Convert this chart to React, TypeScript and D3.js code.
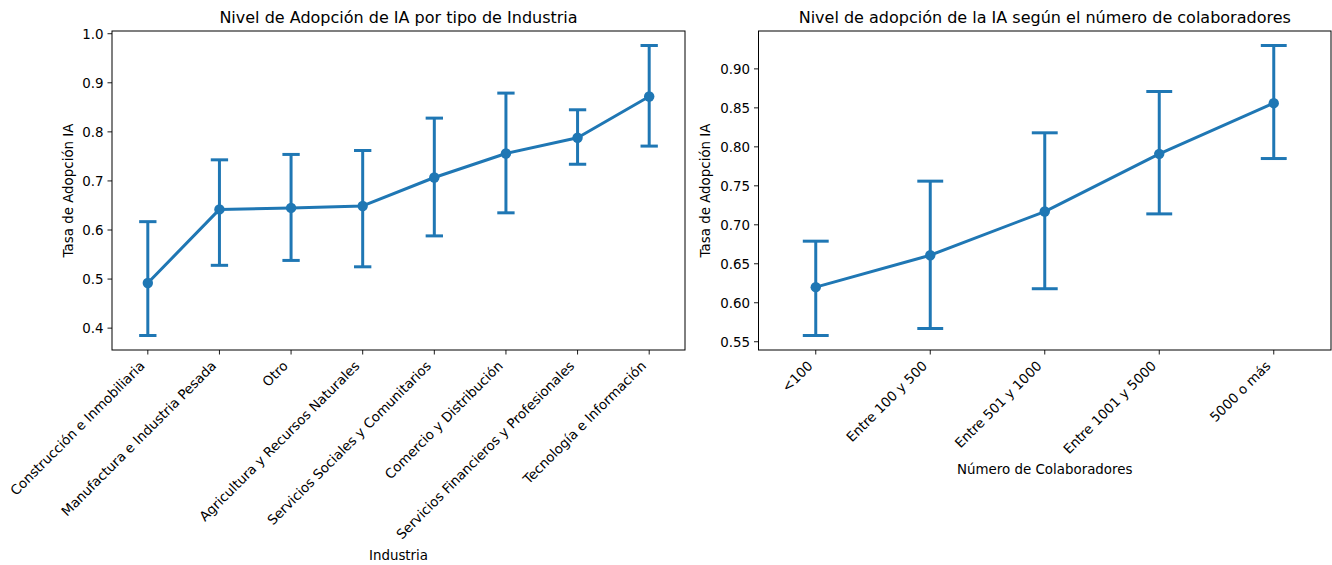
import React from "react";
import * as d3 from "d3";

const industrias = [
  "Construcción e Inmobiliaria",
  "Manufactura e Industria Pesada",
  "Otro",
  "Agricultura y Recursos Naturales",
  "Servicios Sociales y Comunitarios",
  "Comercio y Distribución",
  "Servicios Financieros y Profesionales",
  "Tecnología e Información",
];
const industriaMedia = [0.492, 0.642, 0.645, 0.649, 0.707, 0.756, 0.788, 0.872];
const industriaBajo = [0.385, 0.528, 0.538, 0.525, 0.588, 0.635, 0.734, 0.771];
const industriaAlto = [0.617, 0.743, 0.754, 0.762, 0.828, 0.879, 0.845, 0.976];
const industriaTicks = [0.4, 0.5, 0.6, 0.7, 0.8, 0.9, 1.0];

const colaboradores = ["<100", "Entre 100 y 500", "Entre 501 y 1000", "Entre 1001 y 5000", "5000 o más"];
const colabMedia = [0.62, 0.661, 0.717, 0.791, 0.856];
const colabBajo = [0.558, 0.567, 0.618, 0.714, 0.785];
const colabAlto = [0.679, 0.756, 0.818, 0.871, 0.93];
const colabTicks = [0.55, 0.6, 0.65, 0.7, 0.75, 0.8, 0.85, 0.9];

const FONT = "DejaVu Sans, sans-serif";
const BLUE = "#1f77b4";
const FS = 13.4;

type PanelProps = {
  left: number;
  right: number;
  top: number;
  bottom: number;
  cats: string[];
  mean: number[];
  lo: number[];
  hi: number[];
  ticks: number[];
  tickFmt: (v: number) => string;
  title: string;
  xlabel: string;
  xlabelY: number;
  ylabelOffset: number;
};

function Panel(p: PanelProps) {
  const n = p.cats.length;
  const x = d3.scaleLinear().domain([-0.5, n - 0.5]).range([p.left, p.right]);
  const lo = d3.min(p.lo) as number;
  const hi = d3.max(p.hi) as number;
  const m = (hi - lo) * 0.05;
  const y = d3.scaleLinear().domain([lo - m, hi + m]).range([p.bottom, p.top]);
  const line = d3
    .line<number>()
    .x((_, i) => x(i))
    .y((d) => y(d));
  const capHalf = (x(1) - x(0)) * 0.1;
  const cx = (p.left + p.right) / 2;
  const cy = (p.top + p.bottom) / 2;
  return (
    <g fontFamily={FONT}>
      <text x={cx} y={p.top - 8} textAnchor="middle" fontSize={16} fill="#000">
        {p.title}
      </text>
      {p.ticks.map((t) => (
        <g key={t}>
          <line x1={p.left - 4.5} x2={p.left} y1={y(t)} y2={y(t)} stroke="#000" strokeWidth={0.9} />
          <text x={p.left - 8.5} y={y(t)} dy="0.36em" textAnchor="end" fontSize={FS} fill="#000">
            {p.tickFmt(t)}
          </text>
        </g>
      ))}
      <text
        transform={`translate(${p.left - p.ylabelOffset},${cy}) rotate(-90)`}
        textAnchor="middle"
        dy="0.36em"
        fontSize={FS}
        fill="#000"
      >
        Tasa de Adopción IA
      </text>
      {p.cats.map((c, i) => (
        <g key={c}>
          <line x1={x(i)} x2={x(i)} y1={p.bottom} y2={p.bottom + 4.5} stroke="#000" strokeWidth={0.9} />
          <text
            transform={`translate(${x(i) - 2.3},${p.bottom + 16.8}) rotate(-45)`}
            textAnchor="end"
            fontSize={FS}
            fill="#000"
          >
            {c}
          </text>
        </g>
      ))}
      <text x={cx} y={p.xlabelY} textAnchor="middle" fontSize={FS} fill="#000">
        {p.xlabel}
      </text>
      {p.cats.map((c, i) => (
        <g key={"e" + c} stroke={BLUE} strokeWidth={3} strokeLinecap="square" fill="none">
          <line x1={x(i)} x2={x(i)} y1={y(p.lo[i])} y2={y(p.hi[i])} strokeLinecap="butt" />
          <line x1={x(i) - capHalf} x2={x(i) + capHalf} y1={y(p.lo[i])} y2={y(p.lo[i])} />
          <line x1={x(i) - capHalf} x2={x(i) + capHalf} y1={y(p.hi[i])} y2={y(p.hi[i])} />
        </g>
      ))}
      <path d={line(p.mean) as string} fill="none" stroke={BLUE} strokeWidth={3} strokeLinejoin="round" />
      {p.mean.map((v, i) => (
        <circle key={"m" + i} cx={x(i)} cy={y(v)} r={5.2} fill={BLUE} />
      ))}
      <rect
        x={p.left}
        y={p.top}
        width={p.right - p.left}
        height={p.bottom - p.top}
        fill="none"
        stroke="#000"
        strokeWidth={1}
      />
    </g>
  );
}

export default function App() {
  return (
    <svg
      width={1332}
      height={565}
      style={{ position: "absolute", left: 0, top: 0, background: "#fff" }}
    >
      <rect width={1332} height={565} fill="#fff" />
      <Panel
        left={112}
        right={685}
        top={31}
        bottom={350}
        cats={industrias}
        mean={industriaMedia}
        lo={industriaBajo}
        hi={industriaAlto}
        ticks={industriaTicks}
        tickFmt={d3.format(".1f")}
        title="Nivel de Adopción de IA por tipo de Industria"
        xlabel="Industria"
        xlabelY={560}
        ylabelOffset={44}
      />
      <Panel
        left={758.5}
        right={1331}
        top={31}
        bottom={350}
        cats={colaboradores}
        mean={colabMedia}
        lo={colabBajo}
        hi={colabAlto}
        ticks={colabTicks}
        tickFmt={d3.format(".2f")}
        title="Nivel de adopción de la IA según el número de colaboradores"
        xlabel="Número de Colaboradores"
        xlabelY={474}
        ylabelOffset={53}
      />
    </svg>
  );
}
